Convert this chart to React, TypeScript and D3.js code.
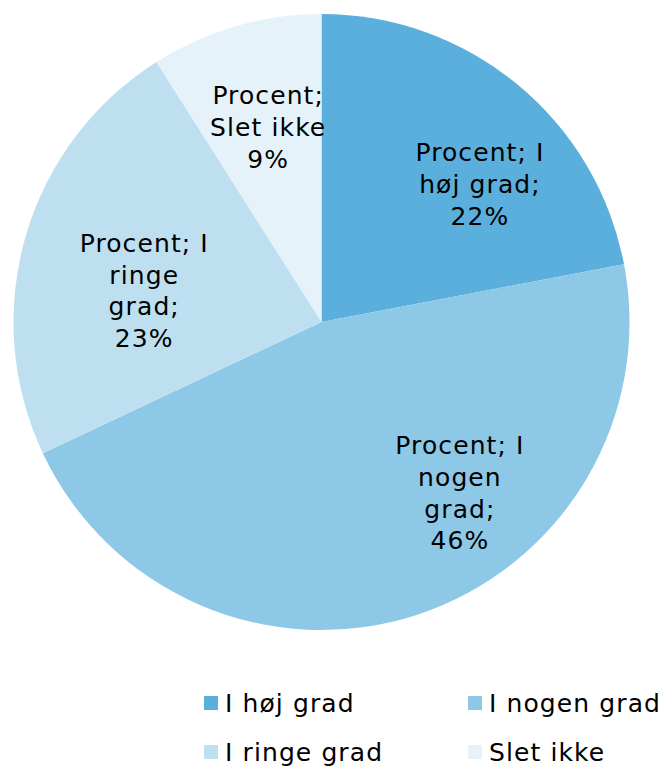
import React from "react";
import * as d3 from "d3";

const categories = ["I høj grad", "I nogen grad", "I ringe grad", "Slet ikke"];
const values = [22, 46, 23, 9];
const seriesName = "Procent";
const labelLines = [
  ["Procent; I", "høj grad;", "22%"],
  ["Procent; I", "nogen", "grad;", "46%"],
  ["Procent; I", "ringe", "grad;", "23%"],
  ["Procent;", "Slet ikke", "9%"],
];
const colors = ["#5BAFDC", "#8DC8E6", "#BDDFF0", "#E5F2FA"];

// label anchor placement (angle in degrees clockwise from top, radius in px)
const labelAnchor = [
  { a: 49, r: 210 },
  { a: 141, r: 220 },
  { a: 280, r: 180 },
  { a: 344.7, r: 202 },
];

export default function App() {
  const W = 660, H = 768;
  const cx = 321.5, cy = 322, R = 308;
  const font = "'DejaVu Sans', Verdana, sans-serif";
  const fs = 25;
  const ls = 1.1;
  const lh = 31.8;

  const pie = d3.pie<number>().sort(null).value((d) => d);
  const arcs = pie(values);
  const arc = d3.arc<d3.PieArcDatum<number>>().innerRadius(0).outerRadius(R);

  const legendX = [204, 468];
  const legendY = [703, 752];

  return (
    <svg width={W} height={H} style={{ position: "absolute", left: 0, top: 0 }}>
      <rect width={W} height={H} fill="#fff" />
      <g transform={`translate(${cx},${cy})`}>
        {arcs.map((a, i) => (
          <path key={i} d={arc(a) || ""} fill={colors[i]} />
        ))}
        {arcs.map((a, i) => {
          const ang = (labelAnchor[i].a * Math.PI) / 180;
          const x = labelAnchor[i].r * Math.sin(ang);
          const y = -labelAnchor[i].r * Math.cos(ang);
          const lines = labelLines[i];
          const y0 = y - ((lines.length - 1) * lh) / 2;
          return (
            <text key={i} x={x} y={y0} textAnchor="middle" fontFamily={font} fontSize={fs} letterSpacing={ls} fill="#000">
              {lines.map((t, j) => (
                <tspan key={j} x={x} y={y0 + j * lh} dy="0.35em">{t}</tspan>
              ))}
            </text>
          );
        })}
      </g>
      {categories.map((c, i) => {
        const col = i % 2, row = Math.floor(i / 2);
        return (
          <g key={c} transform={`translate(${legendX[col]},${legendY[row]})`}>
            <rect x={0} y={-7} width={14} height={14} fill={colors[i]} />
            <text x={21} y={0} dy="0.35em" fontFamily={font} fontSize={fs} letterSpacing={ls} fill="#000">{c}</text>
          </g>
        );
      })}
    </svg>
  );
}
